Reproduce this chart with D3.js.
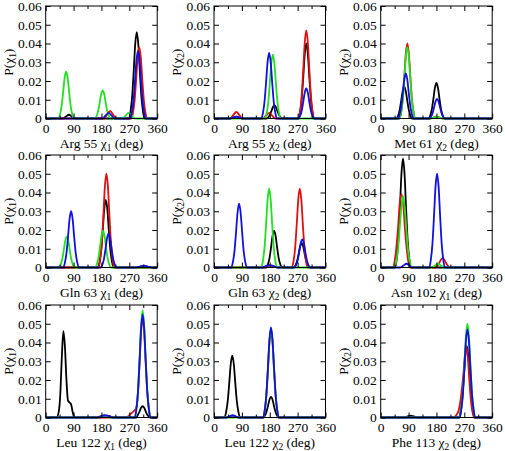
<!DOCTYPE html>
<html><head><meta charset="utf-8">
<script src="https://cdn.jsdelivr.net/npm/d3@7"></script>
<style>
html,body{margin:0;padding:0;background:#fff;}
svg text{font-family:"Liberation Serif","Times New Roman",serif;}
</style>
</head><body>
<svg id="chart" width="505" height="451"></svg>
<script>
// ---- data ----
const residues = ["Arg 55","Arg 55","Met 61","Gln 63","Gln 63","Asn 102","Leu 122","Leu 122","Phe 113"];
const chiIndex = ["1","2","2","1","2","1","1","2","2"];
const xTicks = [0,90,180,270,360];
const xMinorTicks = [45,135,225,315];
const yTicks = [0,0.01,0.02,0.03,0.04,0.05,0.06];
const seriesColors = ["#000000","#e01010","#20e020","#1010e0"];

const blackSeries = [
 [[0,0],[55,0],[65,0.001],[75,0.002],[85,0.001],[95,0],[269,0],[274,0.0039],[279,0.0115],[284,0.0248],[289,0.0396],[294,0.046],[299,0.0396],[304,0.0248],[309,0.0115],[314,0.0039],[319,0],[360,0]],
 [[0,0],[52,0],[62,0.0005],[72,0.001],[82,0.0005],[92,0],[170,0],[175,0.0006],[180,0.0018],[185,0.0038],[190,0.006],[195,0.007],[200,0.006],[205,0.0038],[210,0.0018],[215,0.0006],[220,0],[273,0],[278,0.0034],[283,0.01],[288,0.0216],[293,0.0344],[298,0.040],[303,0.0344],[308,0.0216],[313,0.01],[318,0.0034],[323,0],[360,0]],
 [[0,0],[51,0],[56,0.0014],[61,0.0043],[66,0.0092],[71,0.0146],[76,0.017],[81,0.0146],[86,0.0092],[91,0.0043],[96,0.0014],[101,0],[155,0],[160,0.0016],[165,0.0048],[170,0.0103],[175,0.0163],[180,0.019],[185,0.0163],[190,0.0103],[195,0.0048],[200,0.0016],[205,0],[360,0]],
 [[0,0],[169,0],[174,0.0031],[179,0.009],[184,0.0194],[189,0.031],[194,0.036],[199,0.031],[204,0.0194],[209,0.009],[214,0.0031],[219,0],[360,0]],
 [[0,0],[169,0],[174,0.0017],[179,0.0049],[184,0.0105],[189,0.0168],[194,0.0195],[199,0.0168],[204,0.0105],[209,0.0049],[214,0.0017],[219,0],[258,0],[263,0.0011],[268,0.0033],[273,0.007],[278,0.0112],[283,0.013],[288,0.0112],[293,0.007],[298,0.0033],[303,0.0011],[308,0],[360,0]],
 [[0,0],[47,0],[52,0.0049],[57,0.0145],[62,0.0313],[67,0.0499],[72,0.058],[77,0.0499],[82,0.0313],[87,0.0145],[92,0.0049],[97,0],[360,0]],
 [[0,0],[35,0],[42,0.003],[47,0.012],[52,0.032],[57,0.046],[62,0.038],[67,0.02],[72,0.009],[77,0.008],[82,0.007],[87,0.003],[93,0],[175,0],[190,0.0005],[200,0.001],[210,0.0005],[225,0],[293,0],[298,0.0015],[303,0.0032],[308,0.0052],[313,0.006],[318,0.0052],[323,0.0032],[328,0.0015],[333,0.0005],[338,0],[360,0]],
 [[0,0],[34,0],[39,0.0028],[44,0.0083],[49,0.0178],[54,0.0284],[59,0.033],[64,0.0284],[69,0.0178],[74,0.0083],[79,0.0028],[84,0],[159,0],[164,0.0009],[169,0.0028],[174,0.0059],[179,0.0095],[184,0.011],[189,0.0095],[194,0.0059],[199,0.0028],[204,0.0009],[209,0],[360,0]],
 [[0,0],[75,0],[87,0.0006],[97,0.001],[107,0.0006],[120,0],[253,0],[258,0.0032],[263,0.0095],[268,0.0205],[273,0.0327],[278,0.038],[283,0.0327],[288,0.0205],[293,0.0095],[298,0.0032],[303,0],[360,0]]
];

const redSeries = [
 [[0,0],[188,0],[198,0.002],[208,0.004],[218,0.002],[228,0],[277,0],[282,0.0032],[287,0.0095],[292,0.0205],[297,0.0327],[302,0.038],[307,0.0327],[312,0.0205],[317,0.0095],[322,0.0032],[327,0],[360,0]],
 [[0,0],[52,0],[62,0.0018],[72,0.0035],[82,0.0018],[92,0],[158,0],[168,0.0015],[178,0.003],[188,0.0015],[198,0],[273,0],[278,0.004],[283,0.0118],[288,0.0254],[293,0.0404],[298,0.047],[303,0.0404],[308,0.0254],[313,0.0118],[318,0.004],[323,0],[360,0]],
 [[0,0],[61,0],[66,0.0034],[71,0.01],[76,0.0216],[81,0.0344],[86,0.040],[91,0.0344],[96,0.0216],[101,0.01],[106,0.0034],[111,0],[160,0],[170,0.0005],[180,0.001],[190,0.0005],[200,0],[360,0]],
 [[0,0],[171,0],[176,0.0043],[181,0.0125],[186,0.027],[191,0.043],[196,0.050],[201,0.043],[206,0.027],[211,0.0125],[216,0.0043],[221,0],[360,0]],
 [[0,0],[155,0],[167,0.0005],[180,0.001],[193,0.0005],[205,0],[250,0],[257,0.0036],[262,0.0105],[267,0.0227],[272,0.0361],[277,0.042],[282,0.0361],[287,0.0227],[292,0.0105],[297,0.0036],[302,0],[360,0]],
 [[0,0],[40,0],[45,0.0033],[50,0.0098],[56,0.0211],[61,0.0335],[67,0.039],[73,0.0335],[78,0.0211],[84,0.0098],[89,0.0033],[95,0],[175,0],[180,0.0004],[185,0.0013],[190,0.0027],[195,0.0043],[200,0.005],[205,0.0043],[210,0.0027],[215,0.0013],[220,0.0004],[225,0],[360,0]],
 [[0,0],[258,0],[268,0.0008],[278,0.0025],[285,0.0035],[293,0.0055],[298,0.0133],[303,0.0286],[308,0.0456],[313,0.053],[318,0.0456],[323,0.0286],[328,0.0133],[333,0.0045],[338,0],[360,0]],
 [[0,0],[40,0],[50,0.0004],[60,0.0007],[70,0.0004],[80,0],[159,0],[164,0.004],[169,0.0118],[174,0.0254],[179,0.0404],[184,0.047],[189,0.0404],[194,0.0254],[199,0.0118],[204,0.004],[209,0],[360,0]],
 [[0,0],[235,0],[245,0.0015],[252,0.004],[258,0.0095],[263,0.0165],[268,0.025],[272,0.0335],[276,0.038],[281,0.0327],[286,0.0205],[291,0.0095],[296,0.0032],[301,0],[360,0]]
];

const greenSeries = [
 [[0,0],[41,0],[46,0.0021],[51,0.0063],[56,0.0135],[61,0.0215],[66,0.025],[71,0.0215],[76,0.0135],[81,0.0063],[86,0.0021],[91,0],[159,0],[164,0.0013],[169,0.0038],[174,0.0081],[179,0.0129],[184,0.015],[189,0.0129],[194,0.0081],[199,0.0038],[204,0.0013],[209,0],[248,0],[258,0.0015],[268,0.003],[278,0.0015],[288,0],[360,0]],
 [[0,0],[165,0],[170,0.0029],[175,0.0085],[180,0.0184],[185,0.0292],[190,0.034],[195,0.0292],[200,0.0184],[205,0.0085],[210,0.0029],[215,0],[360,0]],
 [[0,0],[61,0],[66,0.0032],[71,0.0095],[76,0.0205],[81,0.0327],[86,0.038],[91,0.0327],[96,0.0205],[101,0.0095],[106,0.0032],[111,0],[160,0],[170,0.0005],[180,0.001],[190,0.0005],[200,0],[360,0]],
 [[0,0],[43,0],[48,0.0014],[53,0.0041],[58,0.0089],[63,0.0142],[68,0.0165],[73,0.0142],[78,0.0089],[83,0.0041],[88,0.0014],[93,0],[160,0],[165,0.0017],[170,0.0049],[175,0.0105],[180,0.0168],[185,0.0195],[190,0.0168],[195,0.0105],[200,0.0049],[205,0.0017],[210,0],[360,0]],
 [[0,0],[153,0],[158,0.0036],[163,0.0105],[168,0.0227],[173,0.0361],[178,0.042],[183,0.0361],[188,0.0227],[193,0.0105],[198,0.0036],[203,0],[360,0]],
 [[0,0],[45,0],[50,0.0032],[56,0.0095],[61,0.0205],[67,0.0327],[72,0.038],[77,0.0327],[83,0.0205],[88,0.0095],[94,0.0032],[100,0],[165,0],[175,0.001],[185,0.002],[195,0.001],[205,0],[360,0]],
 [[0,0],[170,0],[180,0.0005],[190,0.001],[200,0.0005],[210,0],[288,0],[293,0.0048],[298,0.0143],[303,0.0308],[308,0.049],[313,0.057],[318,0.049],[323,0.0308],[328,0.0143],[333,0.0048],[338,0],[360,0]],
 [[0,0],[159,0],[164,0.004],[169,0.0118],[174,0.0254],[179,0.0404],[184,0.047],[189,0.0404],[194,0.0254],[199,0.0118],[204,0.004],[209,0],[360,0]],
 [[0,0],[255,0],[260,0.0043],[265,0.0125],[270,0.027],[275,0.043],[280,0.050],[285,0.043],[290,0.027],[295,0.0125],[300,0.0043],[305,0],[360,0]]
];

const blueSeries = [
 [[0,0],[183,0],[193,0.0015],[203,0.003],[213,0.0015],[223,0],[273,0],[278,0.0031],[283,0.009],[288,0.0194],[293,0.031],[298,0.036],[303,0.031],[308,0.0194],[313,0.009],[318,0.0031],[323,0],[360,0]],
 [[0,0],[52,0],[62,0.0005],[72,0.001],[82,0.0005],[92,0],[153,0],[158,0.003],[163,0.0088],[168,0.0189],[173,0.0301],[178,0.035],[183,0.0301],[188,0.0189],[193,0.0088],[198,0.003],[203,0],[273,0],[278,0.0014],[283,0.004],[288,0.0086],[293,0.0138],[298,0.016],[303,0.0138],[308,0.0086],[313,0.004],[318,0.0014],[323,0],[360,0]],
 [[0,0],[56,0],[61,0.002],[66,0.006],[71,0.013],[76,0.0206],[81,0.024],[86,0.0206],[91,0.013],[96,0.006],[101,0.002],[106,0],[157,0],[162,0.0009],[167,0.0026],[172,0.0057],[177,0.009],[182,0.0105],[187,0.009],[192,0.0057],[197,0.0026],[202,0.0009],[207,0],[360,0]],
 [[0,0],[57,0],[62,0.0026],[67,0.0075],[72,0.0162],[77,0.0258],[82,0.030],[87,0.0258],[92,0.0162],[97,0.0075],[102,0.0026],[107,0],[178,0],[183,0.0015],[188,0.0045],[193,0.0097],[198,0.0155],[203,0.018],[208,0.0155],[213,0.0097],[218,0.0045],[223,0.0015],[228,0],[290,0],[303,0.0005],[317,0.001],[330,0.0005],[343,0],[360,0]],
 [[0,0],[56,0],[61,0.0029],[66,0.0085],[71,0.0184],[76,0.0292],[81,0.034],[86,0.0292],[91,0.0184],[96,0.0085],[101,0.0029],[106,0],[155,0],[167,0.0008],[180,0.0012],[193,0.0008],[205,0],[260,0],[265,0.0013],[270,0.0038],[275,0.0081],[280,0.0129],[285,0.015],[290,0.0129],[295,0.0081],[300,0.0038],[305,0.0013],[310,0],[360,0]],
 [[0,0],[63,0],[73,0.001],[83,0.002],[93,0.001],[103,0],[157,0],[162,0.0043],[167,0.0125],[172,0.027],[177,0.043],[182,0.050],[187,0.043],[192,0.027],[197,0.0125],[202,0.0043],[207,0],[360,0]],
 [[0,0],[165,0],[178,0.0008],[190,0.0012],[203,0.0008],[215,0],[288,0],[293,0.0047],[298,0.0138],[303,0.0297],[308,0.0473],[313,0.055],[318,0.0473],[323,0.0297],[328,0.0138],[333,0.0047],[338,0],[360,0]],
 [[0,0],[40,0],[50,0.0006],[60,0.0012],[70,0.0006],[80,0],[159,0],[164,0.0041],[169,0.012],[174,0.0259],[179,0.0413],[184,0.048],[189,0.0413],[194,0.0259],[199,0.012],[204,0.0041],[209,0],[360,0]],
 [[0,0],[255,0],[260,0.004],[265,0.0118],[270,0.0254],[275,0.0404],[280,0.047],[285,0.0404],[290,0.0254],[295,0.0118],[300,0.004],[305,0],[360,0]]
];

// ---- layout ----
const colLeft = [45.7, 214, 380.7];
const rowTop = [6, 155, 305];
const pw = 111.5, ph = 112.5;
const fs = 13.5;

const svg = d3.select("#chart");
svg.append("rect").attr("width",505).attr("height",451).attr("fill","#fff");

const allSeries = [blackSeries, redSeries, greenSeries, blueSeries];

for (let i = 0; i < 9; i++) {
  const col = i % 3, row = Math.floor(i / 3);
  const g = svg.append("g").attr("transform", `translate(${colLeft[col]},${rowTop[row]})`);
  const x = d3.scaleLinear().domain([0,360]).range([0,pw]);
  const y = d3.scaleLinear().domain([0,0.06]).range([ph,0]);

  // lines
  const line = d3.line().x(d => x(d[0])).y(d => y(d[1])).curve(d3.curveMonotoneX);
  allSeries.forEach((s, k) => {
    g.append("path").attr("d", line(s[i])).attr("fill","none")
      .attr("stroke", seriesColors[k]).attr("stroke-width",1.8).attr("stroke-linejoin","round");
  });

  // axes
  const styleAxis = sel => {
    sel.select(".domain").remove();
    sel.selectAll("line").attr("stroke","#000").attr("stroke-width",1);
    sel.selectAll("text").attr("font-size", fs).attr("fill","#000");
  };
  g.append("g").attr("transform",`translate(0,${ph})`)
    .call(d3.axisBottom(x).tickValues(xTicks).tickSize(-5).tickPadding(5).tickFormat(d3.format("d")))
    .call(styleAxis);
  g.append("g").attr("transform",`translate(0,${ph})`)
    .call(d3.axisBottom(x).tickValues(xMinorTicks).tickSize(-3).tickFormat(""))
    .call(styleAxis);
  g.append("g")
    .call(d3.axisTop(x).tickValues(xTicks).tickSize(-5).tickFormat(""))
    .call(styleAxis);
  g.append("g")
    .call(d3.axisTop(x).tickValues(xMinorTicks).tickSize(-3).tickFormat(""))
    .call(styleAxis);
  g.append("g")
    .call(d3.axisLeft(y).tickValues(yTicks).tickSize(-5).tickPadding(4).tickFormat(d => d === 0 ? "0" : d3.format(".2f")(d)))
    .call(styleAxis);
  g.append("g").attr("transform",`translate(${pw},0)`)
    .call(d3.axisRight(y).tickValues(yTicks).tickSize(-5).tickFormat(""))
    .call(styleAxis);

  g.append("rect").attr("width",pw).attr("height",ph).attr("fill","none").attr("stroke","#000").attr("stroke-width",1);

  // x title
  const xt = g.append("text").attr("x", pw/2).attr("y", ph + 29).attr("text-anchor","middle")
    .attr("font-size", fs).attr("fill","#000");
  xt.append("tspan").text(residues[i] + " \u03c7");
  xt.append("tspan").attr("font-size", fs*0.7).attr("dy", 3).text(chiIndex[i]);
  xt.append("tspan").attr("dy", -3).text(" (deg)");

  // y title
  const yt = g.append("text").attr("transform", `translate(-33,${ph/2}) rotate(-90)`).attr("text-anchor","middle")
    .attr("font-size", fs).attr("fill","#000");
  yt.append("tspan").text("P(\u03c7");
  yt.append("tspan").attr("font-size", fs*0.7).attr("dy", 3).text(chiIndex[i]);
  yt.append("tspan").attr("dy", -3).text(")");
}
</script>
</body></html>
